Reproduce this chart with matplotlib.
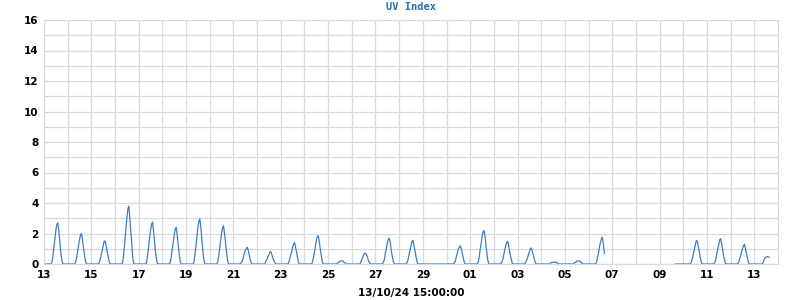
import matplotlib
matplotlib.use("Agg")
import matplotlib.pyplot as plt
import matplotlib.dates as mdates
import numpy as np
import pandas as pd

# hourly UV index, Sep 13 2024 00:00 .. Oct 13 2024 15:00
start = "2024-09-13 00:00"
end = "2024-10-13 15:00"

# daylight readings per day, starting at 08:00 (other hours are 0)
daylight = {
    "2024-09-13": [0.1, 0.5, 1.1, 1.6, 2.2, 2.6, 2.7, 2.2, 1.5, 0.8, 0.3],
    "2024-09-14": [0.1, 0.4, 0.8, 1.2, 1.6, 1.9, 2.0, 1.6, 1.1, 0.6, 0.2],
    "2024-09-15": [0.1, 0.3, 0.6, 0.9, 1.2, 1.5, 1.5, 1.2, 0.8, 0.5, 0.2],
    "2024-09-16": [0.2, 0.8, 1.5, 2.3, 3.0, 3.6, 3.8, 3.0, 2.1, 1.1, 0.4],
    "2024-09-17": [0.1, 0.6, 1.1, 1.7, 2.2, 2.6, 2.75, 2.2, 1.5, 0.8, 0.3],
    "2024-09-18": [0.1, 0.5, 1.0, 1.4, 1.9, 2.3, 2.4, 1.9, 1.3, 0.7, 0.2],
    "2024-09-19": [0.1, 0.6, 1.2, 1.8, 2.4, 2.8, 2.95, 2.4, 1.6, 0.9, 0.3],
    "2024-09-20": [0.1, 0.5, 1.0, 1.5, 2.0, 2.4, 2.5, 2.0, 1.4, 0.8, 0.3],
    "2024-09-21": [0.1, 0.2, 0.4, 0.7, 0.9, 1.0, 1.1, 0.9, 0.6, 0.3, 0.1],
    "2024-09-22": [0.0, 0.2, 0.3, 0.5, 0.6, 0.8, 0.8, 0.6, 0.4, 0.2, 0.1],
    "2024-09-23": [0.1, 0.3, 0.6, 0.8, 1.1, 1.3, 1.4, 1.1, 0.8, 0.4, 0.1],
    "2024-09-24": [0.1, 0.4, 0.7, 1.1, 1.5, 1.8, 1.85, 1.5, 1.0, 0.6, 0.2],
    "2024-09-25": [0.0, 0.0, 0.1, 0.1, 0.2, 0.2, 0.2, 0.2, 0.1, 0.1, 0.0],
    "2024-09-26": [0.0, 0.1, 0.3, 0.4, 0.6, 0.7, 0.7, 0.6, 0.4, 0.2, 0.1],
    "2024-09-27": [0.1, 0.3, 0.7, 1.0, 1.4, 1.6, 1.7, 1.4, 0.9, 0.5, 0.2],
    "2024-09-28": [0.1, 0.3, 0.6, 0.9, 1.2, 1.5, 1.55, 1.2, 0.9, 0.5, 0.2],
    "2024-09-29": [0.0, 0.0, 0.0, 0.0, 0.0, 0.0, 0.0, 0.0, 0.0, 0.0, 0.0],
    "2024-09-30": [0.1, 0.2, 0.5, 0.7, 1.0, 1.1, 1.2, 1.0, 0.7, 0.4, 0.1],
    "2024-10-01": [0.1, 0.4, 0.9, 1.3, 1.8, 2.1, 2.2, 1.8, 1.2, 0.7, 0.2],
    "2024-10-02": [0.1, 0.3, 0.6, 0.9, 1.2, 1.4, 1.5, 1.2, 0.8, 0.5, 0.2],
    "2024-10-03": [0.1, 0.2, 0.4, 0.6, 0.8, 1.0, 1.05, 0.8, 0.6, 0.3, 0.1],
    "2024-10-04": [0.0, 0.0, 0.1, 0.1, 0.1, 0.13, 0.13, 0.1, 0.1, 0.0, 0.0],
    "2024-10-05": [0.0, 0.0, 0.1, 0.1, 0.2, 0.2, 0.2, 0.2, 0.1, 0.1, 0.0],
    "2024-10-06": [0.1, 0.4, 0.7, 1.1, 1.4, 1.65, 1.75, 1.3, 0.7],
    "2024-10-10": [0.1, 0.3, 0.6, 0.9, 1.2, 1.5, 1.55, 1.2, 0.9, 0.5, 0.2],
    "2024-10-11": [0.1, 0.3, 0.7, 1.0, 1.3, 1.6, 1.66, 1.3, 0.9, 0.5, 0.2],
    "2024-10-12": [0.1, 0.3, 0.5, 0.8, 1.0, 1.2, 1.3, 1.0, 0.7, 0.4, 0.1],
    "2024-10-13": [0.0, 0.1, 0.3, 0.4, 0.45, 0.5, 0.45, 0.45],
}

# no data recorded between these times
gap_start = "2024-10-06 17:00"
gap_end = "2024-10-09 15:00"

times = pd.date_range(start, end, freq="h")
uv = pd.Series(0.0, index=times)
for day, vals in daylight.items():
    t0 = pd.Timestamp(day) + pd.Timedelta(hours=8)
    idx = pd.date_range(t0, periods=len(vals), freq="h")
    uv[idx] = vals
uv[gap_start:gap_end] = np.nan

fig = plt.figure(figsize=(8, 3), dpi=100)
ax = fig.add_axes([44/800, 36/300, 734/800, 244/300])

ax.plot(uv.index, uv.values, color="#3a7fc0", linewidth=0.9)

ax.set_xlim(pd.Timestamp("2024-09-13"), pd.Timestamp("2024-10-14"))
ax.set_ylim(0, 16)
ax.set_yticks(np.arange(0, 17, 2))
ax.set_yticks(np.arange(0, 17, 1), minor=True)
ax.xaxis.set_major_locator(mdates.DayLocator(bymonthday=[13, 15, 17, 19, 21, 23, 25, 27, 29, 1, 3, 5, 7, 9, 11]))
ax.xaxis.set_minor_locator(mdates.DayLocator())
ax.xaxis.set_major_formatter(mdates.DateFormatter("%d"))

ax.grid(True, which="both", color="#d9d9d9", linewidth=0.9)
ax.set_axisbelow(True)
for s in ax.spines.values():
    s.set_color("#d9d9d9")
ax.tick_params(which="both", length=0, labelsize=7.5, pad=4, colors="black")
for lab in ax.get_xticklabels() + ax.get_yticklabels():
    lab.set_fontweight("bold")

ax.set_title("UV Index", fontsize=7.5, fontweight="bold", color="#2a6fb0",
             family="DejaVu Sans Mono", pad=7)
ax.set_xlabel("13/10/24 15:00:00", fontsize=7.5, fontweight="bold", labelpad=6)

fig.savefig("out.png", dpi=100)
